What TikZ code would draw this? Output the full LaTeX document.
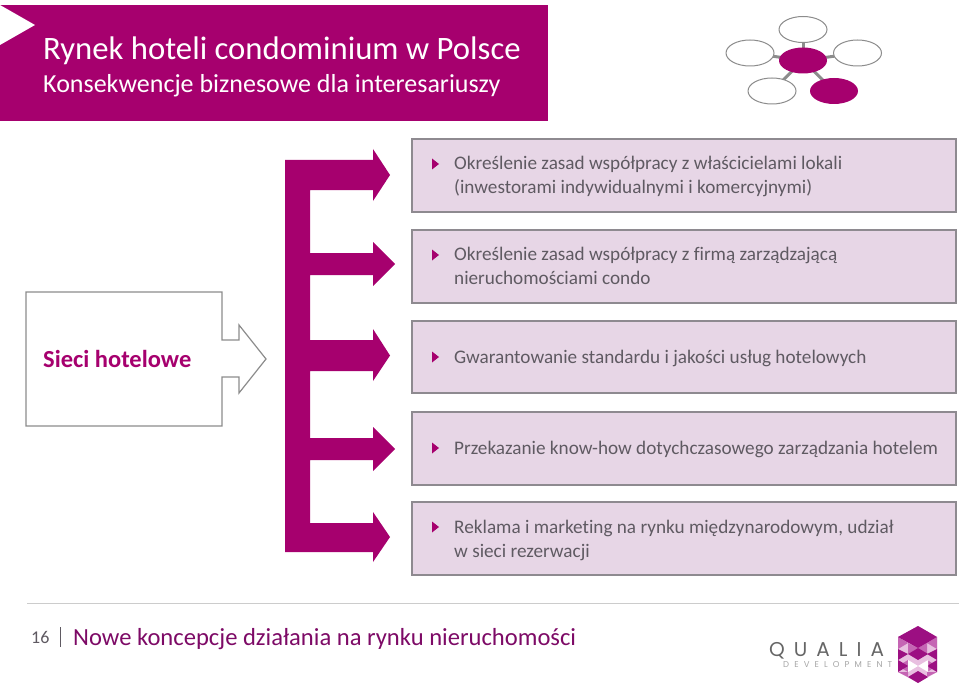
\documentclass[tikz,border=0pt]{standalone}
\usepackage{fontspec}
\setmainfont{Carlito}[Ligatures=NoCommon]
\newfontfamily\logofont{Poppins}
\usetikzlibrary{calc}
\definecolor{mag}{HTML}{A6006E}
\definecolor{boxfill}{HTML}{E7D6E6}
\definecolor{boxline}{HTML}{8E8A90}
\definecolor{txtgray}{HTML}{5F5A62}
\definecolor{gline}{HTML}{8C8C8C}
\definecolor{footmag}{HTML}{7D0A66}
\definecolor{cubedark}{HTML}{9C0F82}
\definecolor{cubemid}{HTML}{C565B4}
\definecolor{cubelight}{HTML}{E8BFE0}
\tikzset{
 x=1pt,y=-1pt,
 infobox/.style={draw=boxline,line width=1.6pt,fill=boxfill,minimum width=544pt,inner sep=0pt,outer sep=0pt,anchor=north west},
 infotext/.style={anchor=west,inner sep=0pt,text=txtgray,font=\fontsize{19.2}{24}\selectfont,align=left},
 fan/.style={gline,line width=3pt},
 ringshape/.style={fill=white,draw=gline,line width=1pt},
}
\begin{document}
\begin{tikzpicture}
\useasboundingbox (0,0) rectangle (960,687);
% header
\fill[mag] (0,5) rectangle (548,121);
\fill[white] (0,5) -- (35,25) -- (0,45) -- cycle;
\node[anchor=base west,inner sep=0pt,text=white,font=\fontsize{32.7}{36}\selectfont] (title) at (43,60) {Rynek hoteli condominium w Polsce};
\node[anchor=base west,inner sep=0pt,text=white,font=\fontsize{26}{30}\selectfont] (subtitle) at (43,92.5) {Konsekwencje biznesowe dla interesariuszy};
% top right mini diagram
\draw[fan] (803,60.5) -- (803,29.5);
\draw[fan] (803,60.5) -- (750,53);
\draw[fan] (803,60.5) -- (857.5,53);
\draw[fan] (803,60.5) -- (772,91);
\draw[fan] (803,60.5) -- (834,91);
\foreach \cx/\cy in {803/29.5,750/53,857.5/53,772/91}{
  \path[ringshape] (\cx,\cy) ellipse [x radius=24pt,y radius=13pt];
}
\fill[mag] (803,60.5) ellipse [x radius=24pt,y radius=13pt];
\fill[mag] (834,91) ellipse [x radius=24pt,y radius=13pt];
% magenta bracket arrows
\fill[mag] (285,160) -- (373,160) -- (373,149) -- (390,175) -- (373,201) -- (373,190) -- (310,190)
 -- (310,253) -- (373,253) -- (373,242) -- (395,264) -- (373,286) -- (373,275) -- (310,275)
 -- (310,340) -- (373,340) -- (373,329) -- (390,355.5) -- (373,381) -- (373,371) -- (310,371)
 -- (310,438) -- (373,438) -- (373,427) -- (395,449) -- (373,471) -- (373,460) -- (310,460)
 -- (310,523) -- (373,523) -- (373,512) -- (390,537) -- (373,562) -- (373,552) -- (285,552) -- cycle;
% left callout
\draw[gline,line width=1.2pt,fill=white] (26,292) -- (222,292) -- (222,340) -- (239,340) -- (239,325) -- (266,359) -- (239,393) -- (239,377) -- (222,377) -- (222,426) -- (26,426) -- cycle;
\node[anchor=base west,inner sep=0pt,text=mag,font=\fontsize{24.5}{28}\selectfont\bfseries] (sieci) at (43,367) {Sieci hotelowe};
% boxes
\node[infobox,minimum height=73pt] (b1) at (412,139) {};
\node[infobox,minimum height=73pt] (b2) at (412,230) {};
\node[infobox,minimum height=72pt] (b3) at (412,321) {};
\node[infobox,minimum height=73pt] (b4) at (412,412) {};
\node[infobox,minimum height=73pt] (b5) at (412,502) {};
\foreach \y in {164,255,357,448,527}{
  \fill[mag] (432,\y-5.5) -- (439,\y) -- (432,\y+5.5) -- cycle;
}
\node[infotext] (t1) at (454,176.5) {Określenie zasad współpracy z właścicielami lokali\\(inwestorami indywidualnymi i komercyjnymi)};
\node[infotext] (t2) at (454,266) {Określenie zasad współpracy z firmą zarządzającą\\nieruchomościami condo};
\node[infotext] (t3) at (454,358.5) {Gwarantowanie standardu i jakości usług hotelowych};
\node[infotext] (t4) at (454,449.5) {Przekazanie know-how dotychczasowego zarządzania hotelem};
\node[infotext] (t5) at (454,540) {Reklama i marketing na rynku międzynarodowym, udział\\w sieci rezerwacji};
% footer
\draw[draw=black!20,line width=1pt] (27,603) -- (959,603);
\node[anchor=base west,inner sep=0pt,text=txtgray,font=\fontsize{18}{20}\selectfont] (pg) at (31,643) {16};
\draw[draw=txtgray,line width=0.8pt] (60,627) -- (60,647);
\node[anchor=base west,inner sep=0pt,text=footmag,font=\fontsize{24.6}{28}\selectfont] (foot) at (73,645) {Nowe koncepcje działania na rynku nieruchomości};
% logo text
\node[anchor=base west,inner sep=0pt,text=black!60,font=\logofont\fontsize{20}{22}\selectfont\addfontfeatures{LetterSpace=45}] (q) at (769,656) {QUALIA};
\node[anchor=base west,inner sep=0pt,text=black!35,font=\logofont\fontsize{8.5}{10}\selectfont\addfontfeatures{LetterSpace=60}] (d) at (783,667.5) {DEVELOPMENT};
% logo cube
\fill[cubelight] (918,626) -- (937,637) -- (937,672) -- (918,683) -- (898,672) -- (898,637) -- cycle;
\fill[cubemid] (898,637) -- (908,643) -- (898,649) -- cycle (937,637) -- (927,643) -- (937,649) -- cycle
 (908,643) -- (918,648) -- (908,654) -- cycle (927,643) -- (918,648) -- (927,654) -- cycle
 (908,660) -- (898,666) -- (908,672) -- cycle (927,660) -- (937,666) -- (927,672) -- cycle;
\fill[cubedark] (918,626) -- (937,637) -- (918,648) -- (898,637) -- cycle;
\fill[cubedark] (918,648) -- (928,654) -- (918,660) -- (908,654) -- cycle;
\fill[cubedark] (898,649) -- (908,654) -- (898,660) -- cycle (937,649) -- (927,654) -- (937,660) -- cycle;
\fill[cubedark] (898,660) -- (908,666) -- (898,672) -- cycle (937,660) -- (927,666) -- (937,672) -- cycle;
\fill[white] (908,660) -- (918,666) -- (928,660) -- (928,672) -- (918,666) -- (908,672) -- cycle;
\fill[cubedark] (918,671) -- (928,677) -- (918,683) -- (908,677) -- cycle;
\fill[cubemid] (898,672) -- (908,672) -- (908,677) -- cycle (937,672) -- (927,672) -- (927,677) -- cycle;
\end{tikzpicture}
\end{document}
